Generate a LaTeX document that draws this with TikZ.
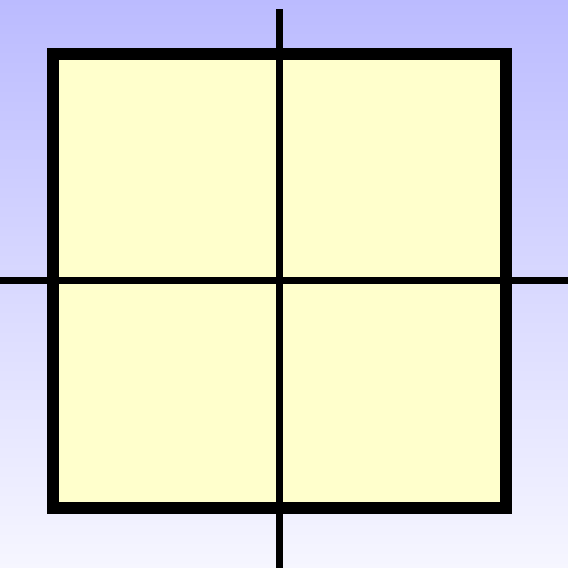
\documentclass[tikz,border=0pt]{standalone}
\begin{document}
\begin{tikzpicture}[x=1pt,y=-1pt,
  frame/.style={draw=black,line width=12pt,fill=paleyellow},
  axis/.style={draw=black,line width=7.7pt}]
\definecolor{paleyellow}{RGB}{255,255,204}
\definecolor{bgtop}{RGB}{187,187,255}
\definecolor{bgbot}{RGB}{246,246,255}
\useasboundingbox (0,0) rectangle (568,568);
\shade[top color=bgtop,bottom color=bgbot] (0,0) rectangle (568,568);
\path[frame] (52.5,54.2) rectangle (506.3,507.5);
\coordinate (vt) at (279.5,9);
\coordinate (vb) at (279.5,568);
\coordinate (hl) at (0,280.5);
\coordinate (hr) at (568,280.5);
\path[axis] (vt) -- (vb);
\path[axis] (hl) -- (hr);
\end{tikzpicture}
\end{document}
